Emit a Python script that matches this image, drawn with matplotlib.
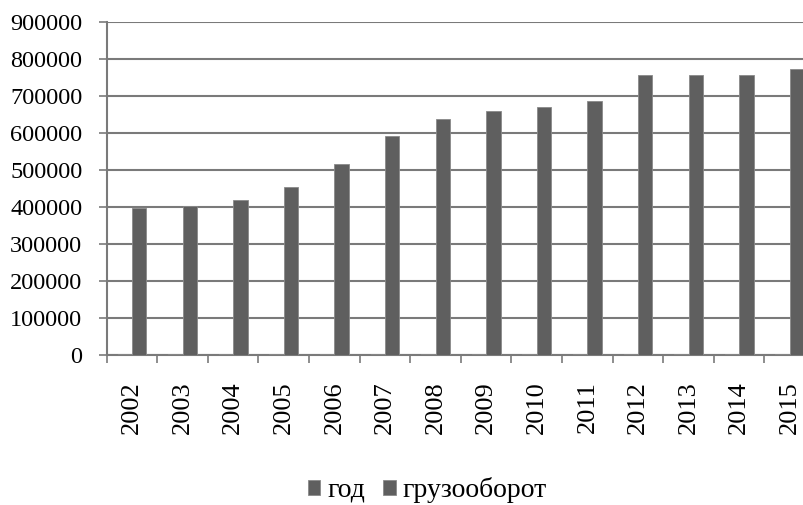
import matplotlib
matplotlib.use("Agg")
import matplotlib.pyplot as plt
import numpy as np

years = ["2002", "2003", "2004", "2005", "2006", "2007", "2008",
         "2009", "2010", "2011", "2012", "2013", "2014", "2015"]
god = [2002, 2003, 2004, 2005, 2006, 2007, 2008,
       2009, 2010, 2011, 2012, 2013, 2014, 2015]
gruzooborot = [397000, 404000, 420000, 453000, 515000, 593000, 637000,
               659000, 669000, 686000, 758000, 758000, 758000, 774000]
yticks = [0, 100000, 200000, 300000, 400000, 500000, 600000, 700000, 800000, 900000]

plt.rcParams['font.family'] = ['Liberation Serif', 'DejaVu Serif']
fig = plt.figure(figsize=(8.04, 5.05), dpi=100)
left = 106.7 / 804
right = (106.7 + 14 * 50.6) / 804
bottom = 1 - 355 / 505
top = 1 - 22 / 505
ax = fig.add_axes([left, bottom, right - left, top - bottom])

x = np.arange(len(years))
w = 1 / 3.5
barcol = '#5f5f5f'
ax.bar(x - w / 2, god, w, color=barcol, edgecolor='#8a8a8a', linewidth=0.6, label='год', zorder=3)
ax.bar(x + w / 2, gruzooborot, w, color=barcol, edgecolor='#8a8a8a', linewidth=0.6, label='грузооборот', zorder=3)

ax.set_xlim(-0.5, len(years) - 0.5)
ax.set_ylim(0, 900000)
ax.set_yticks(yticks)
ax.set_yticklabels([str(v) for v in yticks], fontsize=17.5)
ax.yaxis.grid(True, color='#7a7a7a', linewidth=1.5, zorder=0)
ax.set_axisbelow(True)

ax.set_xticks(np.arange(len(years) + 1) - 0.5)
ax.set_xticklabels([])
ax.set_xticks(x, minor=True)
ax.set_xticklabels(years, minor=True, rotation=90, fontsize=19)
ax.tick_params(axis='x', which='minor', length=0, pad=19)
ax.tick_params(axis='x', which='major', length=6, width=1.2, color='#7a7a7a')
ax.tick_params(axis='y', length=6, width=1.2, color='#7a7a7a', pad=11.5)

for s in ['top', 'right']:
    ax.spines[s].set_visible(False)
for s in ['left', 'bottom']:
    ax.spines[s].set_color('#7a7a7a')
    ax.spines[s].set_linewidth(1.5)

leg = fig.legend(loc='center', bbox_to_anchor=(427.5 / 804, 1 - 490 / 505),
                 ncol=2, frameon=False, fontsize=20, handlelength=0.45,
                 handleheight=0.45, handletextpad=0.25, columnspacing=0.65)

fig.savefig("out.png", dpi=100)
